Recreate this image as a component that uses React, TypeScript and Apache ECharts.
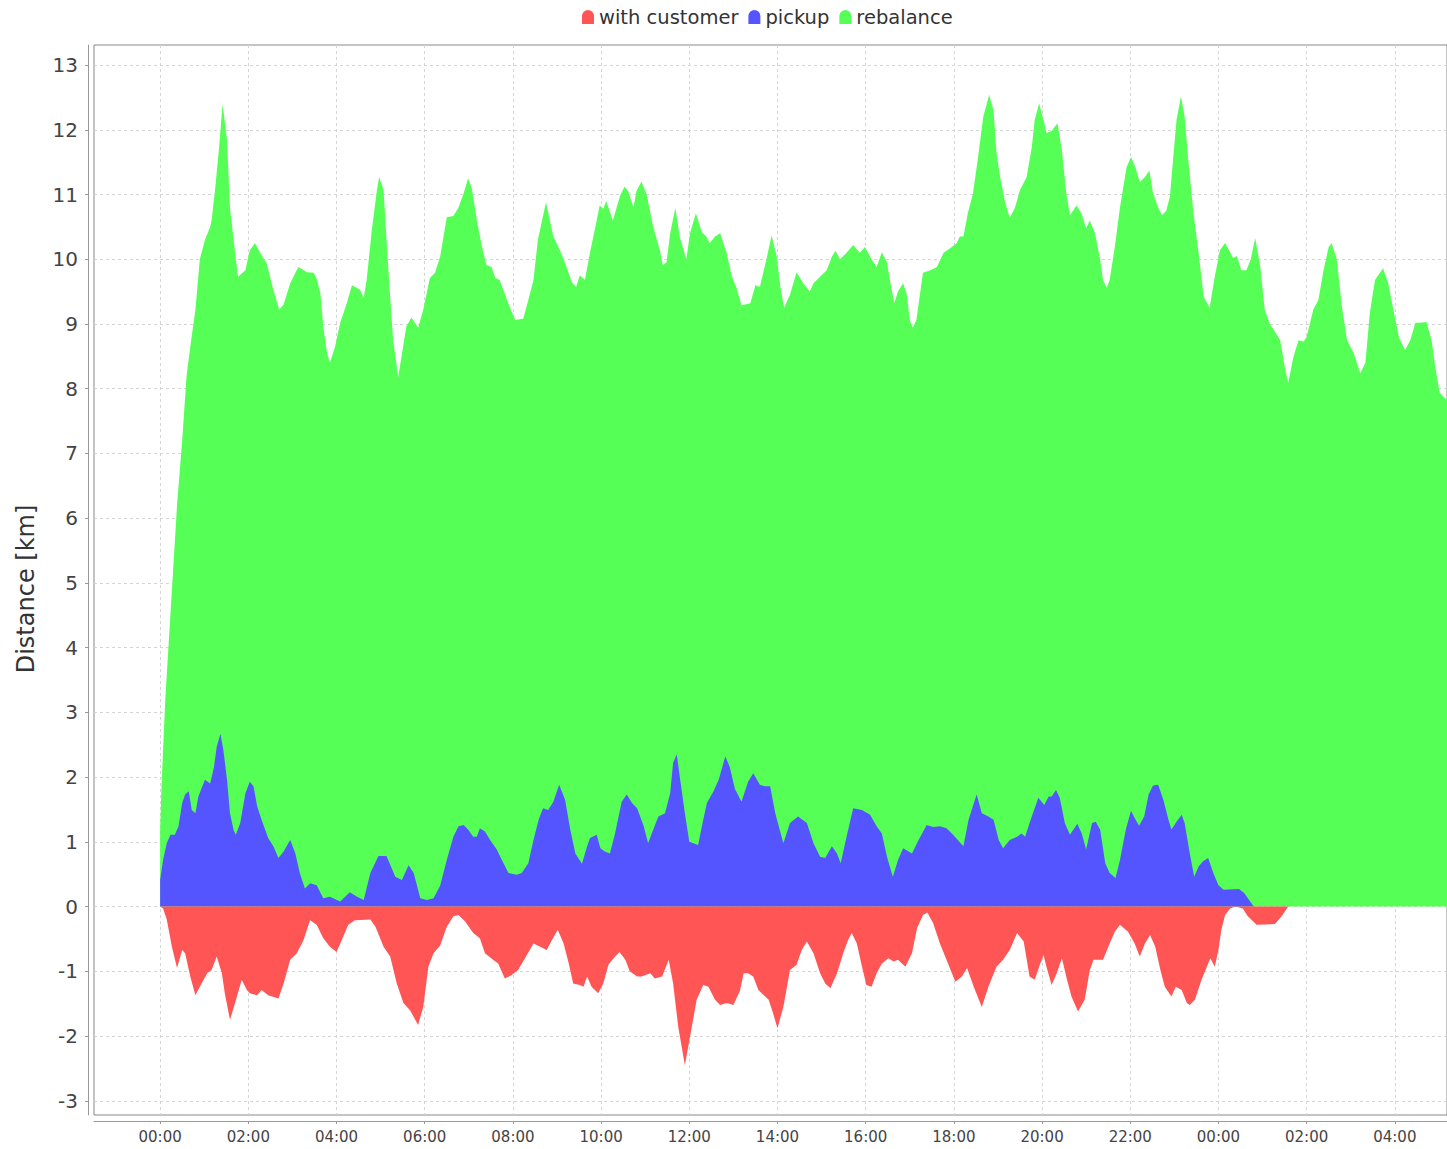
import React, { useEffect, useRef } from "react";
import * as echarts from "echarts";

// Legend / series labels
const seriesNames = ["with customer", "pickup", "rebalance"];
// Tick positions: minutes since 00:00 of the first day, and km
const xTickMinutes = [0, 120, 240, 360, 480, 600, 720, 840, 960, 1080, 1200, 1320, 1440, 1560, 1680];
const yTicks = [-3, -2, -1, 0, 1, 2, 3, 4, 5, 6, 7, 8, 9, 10, 11, 12, 13];

// [minute, km] top edge of the stacked rebalance band (pickup + rebalance)
const stackTopKm: [number, number][] = [
  [0, 1.2], [2, 1.9], [7, 3.2], [15, 4.7], [23, 6.2], [30, 7.2], [36, 8.2], [41, 8.65], [48, 9.22], [54, 10.0], [61, 10.3], [68, 10.5], [70, 10.6], [75, 11.1], [80, 11.7], [85, 12.4], [91, 11.84], [95, 10.8], [102, 10.1], [106, 9.73], [116, 9.83], [122, 10.14], [129, 10.25], [136, 10.1], [145, 9.94], [154, 9.53], [162, 9.22], [168, 9.3], [177, 9.63], [188, 9.88], [200, 9.8], [209, 9.79], [213, 9.7], [218, 9.48], [222, 8.96], [227, 8.55], [231, 8.4], [238, 8.65], [245, 9.02], [254, 9.32], [261, 9.6], [272, 9.53], [277, 9.4], [281, 9.68], [288, 10.45], [295, 11.07], [298, 11.27], [304, 11.07], [308, 10.3], [313, 9.42], [317, 8.75], [324, 8.18], [335, 8.96], [342, 9.1], [351, 8.94], [358, 9.22], [367, 9.71], [374, 9.79], [381, 10.04], [390, 10.65], [399, 10.67], [406, 10.8], [413, 11.02], [419, 11.25], [424, 11.1], [431, 10.6], [438, 10.19], [444, 9.91], [451, 9.88], [456, 9.71], [462, 9.68], [472, 9.37], [483, 9.06], [494, 9.08], [501, 9.37], [508, 9.68], [514, 10.3], [525, 10.88], [535, 10.35], [544, 10.14], [553, 9.88], [560, 9.65], [566, 9.57], [571, 9.75], [578, 9.68], [585, 10.11], [594, 10.6], [598, 10.83], [603, 10.78], [607, 10.9], [616, 10.6], [626, 10.99], [632, 11.12], [637, 11.05], [644, 10.8], [648, 11.05], [655, 11.2], [662, 11.0], [671, 10.5], [680, 10.14], [684, 9.91], [689, 9.95], [694, 10.4], [701, 10.79], [707, 10.35], [716, 10.0], [721, 10.4], [729, 10.71], [737, 10.42], [743, 10.35], [748, 10.25], [755, 10.35], [762, 10.4], [771, 10.09], [778, 9.73], [784, 9.57], [791, 9.29], [803, 9.32], [810, 9.6], [816, 9.57], [825, 10.0], [832, 10.37], [839, 10.04], [844, 9.57], [849, 9.25], [857, 9.45], [866, 9.8], [875, 9.63], [884, 9.5], [889, 9.63], [898, 9.73], [907, 9.83], [914, 10.04], [919, 10.13], [925, 10.0], [934, 10.1], [943, 10.22], [952, 10.1], [959, 10.19], [968, 10.0], [975, 9.88], [982, 10.11], [989, 9.95], [993, 9.68], [999, 9.32], [1004, 9.5], [1011, 9.63], [1016, 9.45], [1020, 9.06], [1024, 8.94], [1029, 9.06], [1038, 9.79], [1048, 9.83], [1057, 9.88], [1066, 10.1], [1075, 10.17], [1084, 10.25], [1088, 10.35], [1093, 10.35], [1099, 10.71], [1106, 11.02], [1113, 11.58], [1120, 12.2], [1128, 12.54], [1134, 12.3], [1138, 11.64], [1143, 11.27], [1150, 10.87], [1156, 10.64], [1163, 10.79], [1170, 11.07], [1179, 11.27], [1186, 11.73], [1190, 12.15], [1196, 12.41], [1202, 12.15], [1206, 11.95], [1213, 11.98], [1221, 12.1], [1227, 11.68], [1233, 11.02], [1238, 10.68], [1247, 10.83], [1254, 10.7], [1260, 10.48], [1265, 10.6], [1272, 10.4], [1279, 10.0], [1283, 9.68], [1288, 9.56], [1292, 9.68], [1299, 10.19], [1306, 10.8], [1315, 11.42], [1321, 11.58], [1327, 11.42], [1333, 11.19], [1340, 11.27], [1346, 11.37], [1351, 11.02], [1358, 10.8], [1363, 10.68], [1369, 10.75], [1374, 10.97], [1379, 11.64], [1383, 12.15], [1389, 12.52], [1394, 12.2], [1399, 11.53], [1406, 10.71], [1413, 10.1], [1420, 9.42], [1428, 9.25], [1435, 9.73], [1442, 10.14], [1449, 10.25], [1460, 10.02], [1465, 10.05], [1471, 9.83], [1478, 9.83], [1484, 10.0], [1490, 10.33], [1497, 9.88], [1503, 9.22], [1510, 9.0], [1517, 8.88], [1524, 8.75], [1531, 8.29], [1535, 8.09], [1542, 8.49], [1549, 8.75], [1556, 8.73], [1560, 8.8], [1569, 9.22], [1576, 9.37], [1583, 9.83], [1590, 10.19], [1594, 10.25], [1601, 10.0], [1608, 9.27], [1615, 8.75], [1624, 8.55], [1633, 8.24], [1640, 8.4], [1646, 9.17], [1653, 9.68], [1664, 9.86], [1671, 9.63], [1678, 9.22], [1686, 8.78], [1694, 8.6], [1701, 8.75], [1708, 9.02], [1714, 9.02], [1723, 9.03], [1730, 8.75], [1735, 8.34], [1741, 7.94], [1750, 7.83], [1760, 7.8],
];

// [minute, km] pickup distance
const pickupKm: [number, number][] = [
  [0, 0.41], [4, 0.72], [9, 0.98], [14, 1.11], [20, 1.11], [25, 1.24], [30, 1.6], [34, 1.73], [39, 1.78], [43, 1.49], [48, 1.44], [52, 1.7], [61, 1.96], [68, 1.9], [73, 2.14], [77, 2.47], [82, 2.67], [86, 2.42], [91, 1.96], [95, 1.44], [100, 1.18], [103, 1.11], [109, 1.29], [116, 1.75], [122, 1.93], [127, 1.86], [132, 1.55], [138, 1.34], [147, 1.06], [154, 0.93], [161, 0.75], [168, 0.85], [177, 1.03], [184, 0.82], [190, 0.52], [197, 0.28], [204, 0.36], [213, 0.33], [222, 0.13], [231, 0.15], [245, 0.08], [258, 0.22], [268, 0.15], [277, 0.1], [286, 0.52], [297, 0.78], [308, 0.78], [320, 0.46], [329, 0.41], [338, 0.64], [345, 0.52], [354, 0.13], [363, 0.1], [372, 0.13], [381, 0.32], [390, 0.72], [399, 1.08], [406, 1.24], [413, 1.26], [419, 1.19], [426, 1.08], [431, 1.08], [435, 1.21], [442, 1.16], [449, 1.03], [458, 0.88], [465, 0.72], [474, 0.52], [485, 0.49], [492, 0.52], [501, 0.67], [508, 1.03], [515, 1.34], [521, 1.52], [528, 1.49], [535, 1.62], [543, 1.88], [551, 1.65], [558, 1.19], [565, 0.82], [574, 0.66], [581, 0.93], [585, 1.06], [594, 1.11], [599, 0.9], [605, 0.85], [612, 0.82], [619, 1.13], [628, 1.62], [635, 1.73], [642, 1.6], [649, 1.52], [658, 1.24], [664, 0.98], [671, 1.19], [678, 1.39], [687, 1.44], [694, 1.75], [698, 2.22], [703, 2.35], [707, 2.01], [714, 1.44], [720, 1.0], [732, 0.95], [739, 1.34], [744, 1.6], [753, 1.78], [760, 1.96], [769, 2.32], [775, 2.16], [782, 1.82], [791, 1.62], [800, 1.93], [807, 2.06], [816, 1.88], [823, 1.86], [830, 1.86], [837, 1.44], [848, 0.98], [857, 1.29], [868, 1.39], [880, 1.29], [889, 0.98], [898, 0.77], [905, 0.75], [914, 0.93], [921, 0.82], [926, 0.67], [934, 1.08], [943, 1.52], [955, 1.49], [966, 1.42], [975, 1.24], [982, 1.13], [989, 0.77], [997, 0.46], [1004, 0.72], [1011, 0.9], [1023, 0.82], [1032, 1.03], [1043, 1.26], [1052, 1.23], [1061, 1.24], [1070, 1.21], [1079, 1.11], [1093, 0.93], [1100, 1.34], [1111, 1.73], [1118, 1.44], [1127, 1.39], [1134, 1.34], [1141, 1.03], [1147, 0.9], [1156, 1.03], [1166, 1.08], [1172, 1.13], [1177, 1.08], [1183, 1.29], [1186, 1.39], [1195, 1.68], [1203, 1.57], [1209, 1.7], [1213, 1.7], [1219, 1.8], [1224, 1.68], [1231, 1.29], [1238, 1.11], [1248, 1.28], [1254, 1.13], [1260, 0.88], [1268, 1.29], [1273, 1.31], [1279, 1.19], [1286, 0.67], [1292, 0.52], [1300, 0.44], [1306, 0.72], [1314, 1.19], [1321, 1.48], [1326, 1.37], [1332, 1.25], [1339, 1.39], [1345, 1.73], [1351, 1.87], [1358, 1.88], [1365, 1.65], [1372, 1.34], [1376, 1.19], [1383, 1.31], [1390, 1.42], [1394, 1.29], [1401, 0.82], [1407, 0.46], [1413, 0.62], [1419, 0.7], [1426, 0.75], [1433, 0.52], [1440, 0.33], [1447, 0.26], [1468, 0.27], [1475, 0.21], [1488, 0], [1760, 0],
];

// [minute, km] distance driven with customer (plotted below zero)
const withCustomerKm: [number, number][] = [
  [0, 0], [4, -0.03], [9, -0.2], [16, -0.62], [23, -0.95], [30, -0.67], [34, -0.72], [41, -1.08], [48, -1.37], [54, -1.24], [64, -1.03], [70, -0.98], [77, -0.77], [84, -1.03], [88, -1.34], [95, -1.75], [102, -1.49], [111, -1.13], [118, -1.29], [122, -1.34], [132, -1.37], [138, -1.29], [147, -1.37], [161, -1.42], [168, -1.19], [177, -0.82], [186, -0.72], [195, -0.52], [204, -0.21], [213, -0.28], [222, -0.49], [231, -0.62], [240, -0.7], [247, -0.52], [256, -0.28], [265, -0.21], [286, -0.2], [293, -0.31], [304, -0.62], [313, -0.77], [322, -1.19], [331, -1.49], [340, -1.6], [351, -1.83], [358, -1.55], [365, -0.93], [372, -0.72], [381, -0.6], [390, -0.31], [399, -0.15], [406, -0.13], [415, -0.23], [426, -0.41], [435, -0.49], [442, -0.72], [453, -0.82], [460, -0.88], [469, -1.11], [478, -1.06], [487, -0.98], [499, -0.75], [508, -0.57], [517, -0.62], [526, -0.67], [533, -0.52], [541, -0.36], [549, -0.57], [556, -0.88], [562, -1.19], [571, -1.21], [576, -1.24], [581, -1.08], [587, -1.24], [596, -1.34], [603, -1.19], [610, -0.9], [617, -0.8], [625, -0.7], [633, -0.82], [639, -1.0], [649, -1.08], [655, -1.08], [667, -1.03], [673, -1.11], [683, -1.08], [692, -0.82], [698, -1.19], [705, -1.86], [714, -2.45], [721, -2.01], [730, -1.44], [739, -1.21], [746, -1.24], [755, -1.44], [762, -1.52], [771, -1.49], [780, -1.52], [789, -1.3], [794, -1.03], [800, -1.03], [807, -1.08], [814, -1.29], [828, -1.44], [834, -1.65], [840, -1.88], [848, -1.55], [857, -0.98], [866, -0.9], [873, -0.67], [880, -0.54], [889, -0.72], [898, -1.03], [905, -1.19], [912, -1.26], [921, -1.03], [930, -0.7], [936, -0.52], [941, -0.41], [948, -0.57], [955, -0.93], [961, -1.21], [968, -1.24], [975, -1.03], [982, -0.88], [991, -0.8], [998, -0.85], [1004, -0.82], [1014, -0.93], [1023, -0.72], [1030, -0.33], [1038, -0.13], [1044, -0.09], [1052, -0.26], [1061, -0.57], [1070, -0.82], [1082, -1.16], [1091, -1.08], [1098, -0.95], [1107, -1.24], [1118, -1.55], [1127, -1.24], [1138, -0.93], [1147, -0.82], [1156, -0.67], [1166, -0.41], [1175, -0.54], [1183, -1.08], [1190, -1.13], [1197, -0.9], [1202, -0.75], [1206, -0.93], [1213, -1.21], [1220, -1.03], [1227, -0.8], [1234, -1.13], [1240, -1.39], [1249, -1.62], [1258, -1.44], [1265, -0.98], [1270, -0.82], [1283, -0.82], [1292, -0.57], [1299, -0.39], [1306, -0.28], [1317, -0.39], [1326, -0.57], [1333, -0.77], [1340, -0.57], [1347, -0.44], [1354, -0.62], [1361, -0.98], [1367, -1.24], [1376, -1.39], [1382, -1.24], [1390, -1.29], [1397, -1.49], [1401, -1.52], [1408, -1.44], [1417, -1.13], [1429, -0.8], [1435, -0.93], [1440, -0.67], [1444, -0.36], [1449, -0.13], [1456, -0.03], [1463, 0], [1473, -0.03], [1480, -0.15], [1492, -0.28], [1517, -0.27], [1526, -0.15], [1535, 0], [1760, 0],
];

const FONT = "DejaVu Sans";
const COLORS: Record<string, string> = {
  "with customer": "#FF5555",
  pickup: "#5555FF",
  rebalance: "#55FF55",
};

function formatClock(v: number): string {
  const h = ((Math.round(v / 60) % 24) + 24) % 24;
  return String(h).padStart(2, "0") + ":00";
}

function areaSeries(name: string, data: [number, number][]) {
  const color = COLORS[name];
  return {
    name,
    type: "line",
    data,
    showSymbol: false,
    symbol: "none",
    smooth: false,
    itemStyle: { color },
    lineStyle: { width: 0, color },
    areaStyle: { color, opacity: 1 },
    emphasis: { disabled: true },
    silent: true,
  };
}

export default function App() {
  const ref = useRef<HTMLDivElement>(null);
  useEffect(() => {
    document.body.style.margin = "0";
    const chart = echarts.init(ref.current!, null, { renderer: "svg" });
    chart.setOption({
      animation: false,
      backgroundColor: "#ffffff",
      textStyle: { fontFamily: FONT },
      legend: {
        left: 577,
        top: 2,
        itemWidth: 12,
        itemHeight: 14,
        itemGap: 10,
        selectedMode: false,
        icon: "path://M0,14L0,6A6,6,0,0,1,12,6L12,14Z",
        data: seriesNames,
        textStyle: { fontSize: 19.5, color: "#333", fontFamily: FONT },
      },
      grid: {
        left: 94,
        top: 45,
        right: 0,
        bottom: 34,
        show: true,
        borderColor: "#888",
        borderWidth: 1,
        backgroundColor: "#ffffff",
        containLabel: false,
      },
      xAxis: {
        type: "value",
        min: -90,
        max: 1751,
        offset: 6,
        axisLine: { show: true, onZero: false, lineStyle: { color: "#999", width: 1 } },
        axisTick: { show: true, length: 3, customValues: xTickMinutes, lineStyle: { color: "#999" } },
        axisLabel: {
          customValues: xTickMinutes,
          formatter: formatClock,
          fontSize: 15,
          color: "#444",
          margin: 8,
          fontFamily: FONT,
        },
        splitLine: { show: true, lineStyle: { color: "#d4d4d4", type: [3, 3], width: 1 } },
      },
      yAxis: {
        type: "value",
        min: -3.22,
        max: 13.31,
        offset: 6,
        name: "Distance [km]",
        nameLocation: "middle",
        nameGap: 50,
        nameTextStyle: { fontSize: 24, color: "#333", fontFamily: FONT, padding: [0, 18, 0, 0] },
        axisLine: { show: true, onZero: false, lineStyle: { color: "#999", width: 1 } },
        axisTick: { show: true, length: 3, customValues: yTicks, lineStyle: { color: "#999" } },
        axisLabel: { customValues: yTicks, fontSize: 20, color: "#444", margin: 10, fontFamily: FONT },
        splitLine: { show: true, lineStyle: { color: "#d4d4d4", type: [3, 3], width: 1 } },
      },
      series: [
        areaSeries("rebalance", stackTopKm),
        areaSeries("pickup", pickupKm),
        areaSeries("with customer", withCustomerKm),
      ],
    });
    return () => chart.dispose();
  }, []);
  return <div ref={ref} style={{ width: 1447, height: 1149 }} />;
}
